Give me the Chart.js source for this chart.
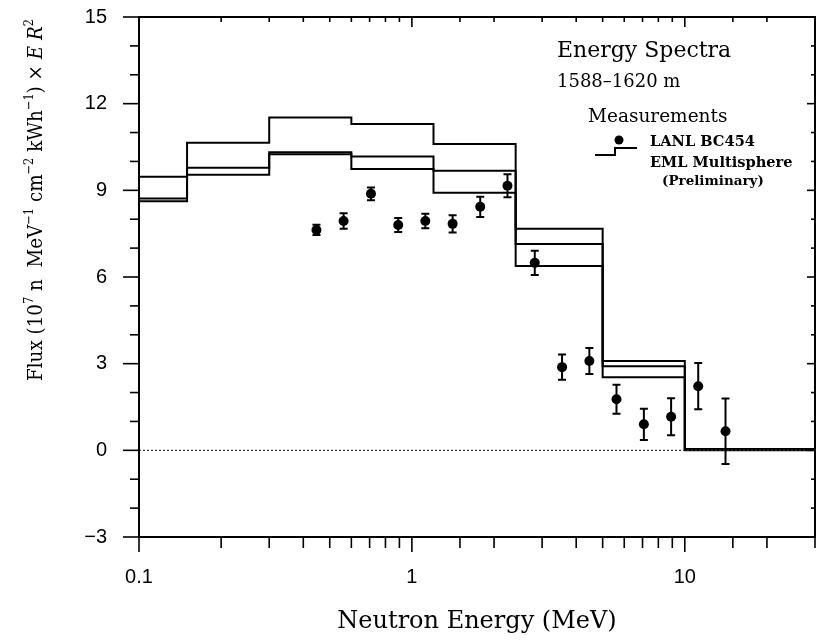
<!DOCTYPE html>
<html>
<head>
<meta charset="utf-8">
<script src="https://cdn.jsdelivr.net/npm/chart.js@4.4.1/dist/chart.umd.min.js"></script>
<style>
  html, body { margin: 0; padding: 0; background: #fff; }
  #wrap { width: 820px; height: 640px; }
</style>
</head>
<body>
<div id="wrap"><canvas id="c" width="820" height="640"></canvas></div>
<script>
// ---- data ----
const binEdges = [0.1, 0.15, 0.3, 0.6, 1.2, 2.4, 5, 10, 30];
const emlUpper = [9.47, 10.65, 11.52, 11.3, 10.6, 7.67, 3.09, 0.05];
const emlMid   = [8.72, 9.78, 10.32, 10.17, 9.68, 7.14, 2.91, 0.02];
const emlLower = [8.62, 9.54, 10.25, 9.74, 8.92, 6.38, 2.53, 0.0];

const lanlEnergy = [0.447, 0.562, 0.708, 0.891, 1.12, 1.41, 1.78, 2.24, 2.82, 3.55, 4.47, 5.62, 7.08, 8.91, 11.2, 14.1];
const lanlFlux   = [7.63, 7.94, 8.88, 7.80, 7.94, 7.84, 8.43, 9.16, 6.49, 2.88, 3.09, 1.77, 0.90, 1.16, 2.22, 0.66];
const lanlErr    = [0.18, 0.27, 0.22, 0.24, 0.25, 0.30, 0.35, 0.40, 0.42, 0.44, 0.45, 0.50, 0.54, 0.64, 0.80, 1.13];

const xLabelValues = [0.1, 1, 10];
const yLabelValues = [-3, 0, 3, 6, 9, 12, 15];
const xRange = [0.1, 30];
const yRange = [-3, 15];

// ---- helpers ----
const SERIF = '"DejaVu Serif", serif';
const SANS = '"Liberation Sans", Arial, sans-serif';
function stepData(vals) {
  const pts = vals.map((v, i) => ({ x: binEdges[i], y: v }));
  pts.push({ x: binEdges[binEdges.length - 1], y: vals[vals.length - 1] });
  return pts;
}
function isLabelX(v) { return xLabelValues.some(l => Math.abs(Math.log10(v) - Math.log10(l)) < 1e-6); }
function isLabelY(v) { return yLabelValues.includes(Math.round(v * 1000) / 1000); }

const stepStyle = { borderColor: '#000', borderWidth: 2, pointRadius: 0, fill: false, stepped: 'before', tension: 0 };

// frame + ticks drawn through the scales
const frameTicks = {
  id: 'frameTicks',
  afterDraw(chart) {
    const { ctx, chartArea: a, scales: { x, y } } = chart;
    ctx.save();
    ctx.strokeStyle = '#000';
    ctx.lineWidth = 2;
    ctx.strokeRect(a.left, a.top, a.right - a.left, a.bottom - a.top);
    ctx.lineWidth = 1.6;
    const ln = (x1, y1, x2, y2) => { ctx.beginPath(); ctx.moveTo(x1, y1); ctx.lineTo(x2, y2); ctx.stroke(); };
    x.ticks.forEach(t => {
      const px = x.getPixelForValue(t.value);
      if (px < a.left - 1 || px > a.right + 1) return;
      const major = isLabelX(t.value);
      ln(px, a.bottom, px, a.bottom + (major ? 15 : 11));
      ln(px, a.top, px, a.top + (major ? 10 : 5));
    });
    y.ticks.forEach(t => {
      const py = y.getPixelForValue(t.value);
      const major = isLabelY(t.value);
      ln(a.left - (major ? 16 : 9), py, a.left, py);
      ln(a.right - (major ? 8 : 4), py, a.right, py);
    });
    ctx.restore();
  }
};

// error bars drawn through the scales
const errorBars = {
  id: 'errorBars',
  afterDatasetsDraw(chart) {
    const { ctx, scales: { x, y } } = chart;
    ctx.save();
    ctx.strokeStyle = '#000';
    ctx.lineWidth = 2;
    lanlEnergy.forEach((e, i) => {
      const px = x.getPixelForValue(e);
      const top = y.getPixelForValue(lanlFlux[i] + lanlErr[i]);
      const bot = y.getPixelForValue(lanlFlux[i] - lanlErr[i]);
      ctx.beginPath();
      ctx.moveTo(px, top); ctx.lineTo(px, bot);
      ctx.moveTo(px - 4, top); ctx.lineTo(px + 4, top);
      ctx.moveTo(px - 4, bot); ctx.lineTo(px + 4, bot);
      ctx.stroke();
    });
    ctx.restore();
  }
};

// titles and annotation legend
const texts = {
  id: 'texts',
  afterDraw(chart) {
    const { ctx, chartArea: a } = chart;
    ctx.save();
    ctx.fillStyle = '#000';
    ctx.textBaseline = 'alphabetic';
    // x title
    ctx.font = '24px ' + SERIF;
    ctx.textAlign = 'center';
    ctx.fillText('Neutron Energy (MeV)', (a.left + a.right) / 2, 628);
    // y title (rotated, mixed fonts), fitted to the reference length
    const segs = [
      { t: 'Flux (10', k: 'n' }, { t: '7', k: 's' },
      { t: ' n  MeV', k: 'n' }, { t: '\u22121', k: 's' },
      { t: ' cm', k: 'n' }, { t: '\u22122', k: 's' },
      { t: ' kWh', k: 'n' }, { t: '\u22121', k: 's' },
      { t: ') \u00d7 ', k: 'n' }, { t: 'E R', k: 'i' }, { t: '2', k: 's' }
    ];
    const sz = 21;
    const fontFor = (k) => k === 's' ? (sz * 0.62) + 'px ' + SERIF : (k === 'i' ? 'italic ' : '') + sz + 'px ' + SERIF;
    const total = segs.reduce((acc, s) => { ctx.font = fontFor(s.k); return acc + ctx.measureText(s.t).width; }, 0);
    const squeeze = 362 / total;
    ctx.translate(42, 200);
    ctx.rotate(-Math.PI / 2);
    ctx.scale(squeeze, 1);
    ctx.textAlign = 'left';
    let cx = -total / 2;
    segs.forEach(s => {
      ctx.font = fontFor(s.k);
      const w = ctx.measureText(s.t).width;
      ctx.fillText(s.t, cx, s.k === 's' ? -sz * 0.42 : 0);
      cx += w;
    });
    ctx.setTransform(1, 0, 0, 1, 0, 0);
    // annotation
    ctx.textAlign = 'left';
    ctx.font = '22px ' + SERIF;
    ctx.fillText('Energy Spectra', 557, 57);
    ctx.font = '18px ' + SERIF;
    ctx.fillText('1588\u20131620 m', 557, 87);
    ctx.font = '18.5px ' + SERIF;
    ctx.fillText('Measurements', 588, 122);
    ctx.font = 'bold 14.6px ' + SERIF;
    ctx.fillText('LANL BC454', 650, 146);
    ctx.fillText('EML Multisphere', 650, 167);
    ctx.font = 'bold 13.5px ' + SERIF;
    ctx.fillText('(Preliminary)', 662, 185);
    // symbols
    ctx.beginPath(); ctx.arc(619, 140, 4.5, 0, Math.PI * 2); ctx.fill();
    ctx.strokeStyle = '#000'; ctx.lineWidth = 2;
    ctx.beginPath();
    ctx.moveTo(595, 155); ctx.lineTo(615, 155); ctx.lineTo(615, 148); ctx.lineTo(637, 148);
    ctx.stroke();
    ctx.restore();
  }
};

new Chart(document.getElementById('c'), {
  type: 'line',
  data: {
    datasets: [
      { label: 'zero', data: [{ x: xRange[0], y: 0 }, { x: xRange[1], y: 0 }], borderColor: '#333', borderWidth: 1.2, borderDash: [2, 2], pointRadius: 0, fill: false },
      Object.assign({ label: 'EML upper', data: stepData(emlUpper) }, stepStyle),
      Object.assign({ label: 'EML', data: stepData(emlMid) }, stepStyle),
      Object.assign({ label: 'EML lower', data: stepData(emlLower) }, stepStyle),
      { label: 'LANL BC454', data: lanlEnergy.map((e, i) => ({ x: e, y: lanlFlux[i] })), showLine: false,
        pointRadius: 5, pointHoverRadius: 5, pointBackgroundColor: '#000', pointBorderColor: '#000', pointBorderWidth: 0 }
    ]
  },
  options: {
    responsive: false,
    animation: false,
    devicePixelRatio: 1,
    layout: { padding: { top: 17, right: 1, left: 0, bottom: 0 } },
    plugins: { legend: { display: false }, tooltip: { enabled: false } },
    scales: {
      x: {
        type: 'logarithmic', min: xRange[0], max: xRange[1],
        grid: { display: false }, border: { display: false },
        ticks: {
          autoSkip: false, maxRotation: 0, padding: 20, color: '#000',
          font: { family: SANS, size: 20 },
          callback: (v) => isLabelX(v) ? String(v) : ''
        },
        afterFit: (s) => { s.height = 103; s.paddingLeft = 0; s.paddingRight = 0; }
      },
      y: {
        min: yRange[0], max: yRange[1],
        grid: { display: false }, border: { display: false },
        ticks: {
          stepSize: 1, padding: 24, color: '#000',
          font: { family: SANS, size: 20 },
          callback: (v) => isLabelY(v) ? (v < 0 ? '\u2212' + Math.abs(v) : String(v)) : ''
        },
        afterFit: (s) => { s.width = 139; s.paddingTop = 0; s.paddingBottom = 0; }
      }
    }
  },
  plugins: [frameTicks, errorBars, texts]
});
</script>
</body>
</html>
